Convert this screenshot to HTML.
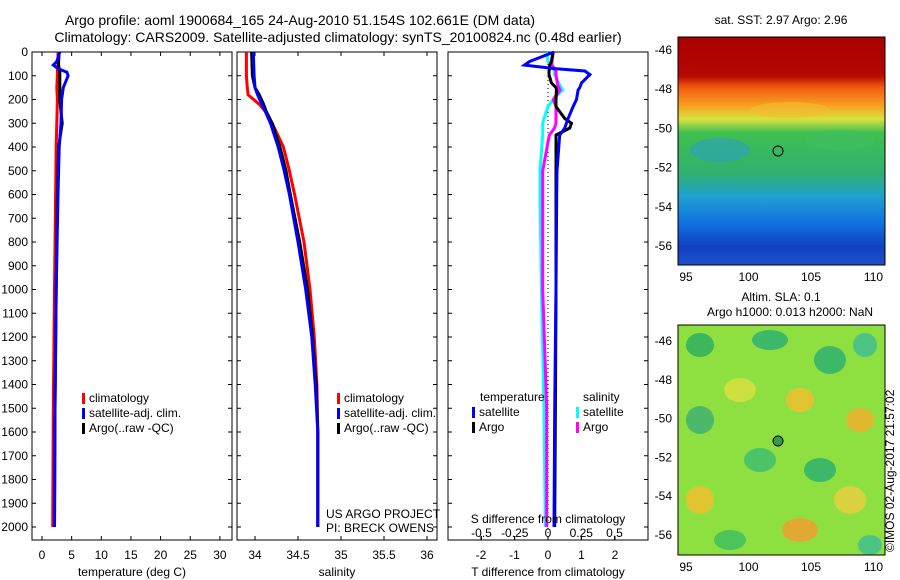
<!DOCTYPE html>
<html><head><meta charset="utf-8"><style>
body{margin:0;background:#fff;}
svg{display:block;font-family:"Liberation Sans",sans-serif;}
text{font-size:12px;fill:#000;}
</style></head><body>
<svg id="c" width="900" height="580" viewBox="0 0 900 580">
<defs>
<linearGradient id="g1" x1="0" y1="0" x2="0" y2="1">
<stop offset="0" stop-color="#a80000"/><stop offset="0.17" stop-color="#b40800"/>
<stop offset="0.22" stop-color="#f05a10"/><stop offset="0.3" stop-color="#f8a020"/>
<stop offset="0.36" stop-color="#d8e040"/><stop offset="0.42" stop-color="#40c050"/>
<stop offset="0.6" stop-color="#30b070"/><stop offset="0.7" stop-color="#20a0d0"/>
<stop offset="0.82" stop-color="#1070e0"/><stop offset="0.92" stop-color="#1040c0"/>
<stop offset="1" stop-color="#2050c8"/></linearGradient>
</defs>
<text x="300" y="25" text-anchor="middle" style="font-size:14px">Argo profile: aoml 1900684_165 24-Aug-2010 51.154S 102.661E (DM data)</text>
<text x="338" y="42" text-anchor="middle" style="font-size:14px">Climatology: CARS2009. Satellite-adjusted climatology: synTS_20100824.nc (0.48d earlier)</text>
<g id="p1"></g>
<g id="p2"></g>
<g id="p3"></g>
<g>
<rect x="678" y="37" width="207" height="228" fill="url(#g1)"/>
<ellipse cx="720" cy="150" rx="30" ry="12" fill="#2aa0c0" opacity="0.6"/>
<ellipse cx="840" cy="140" rx="35" ry="10" fill="#40c060" opacity="0.6"/>
<ellipse cx="790" cy="110" rx="40" ry="8" fill="#f0c030" opacity="0.6"/>
<circle cx="778" cy="151" r="5" fill="none" stroke="#000"/>
<text x="781" y="24" text-anchor="middle">sat. SST: 2.97 Argo: 2.96</text>
</g>
<g>
<rect x="678" y="325" width="207" height="230" fill="#8ee040"/>
<g opacity="0.85">
<ellipse cx="700" cy="345" rx="14" ry="12" fill="#30b060"/><ellipse cx="770" cy="340" rx="18" ry="10" fill="#30b070"/>
<ellipse cx="830" cy="360" rx="16" ry="14" fill="#30b070"/><ellipse cx="865" cy="345" rx="12" ry="12" fill="#40c090"/>
<ellipse cx="740" cy="390" rx="16" ry="12" fill="#d8e040"/><ellipse cx="800" cy="400" rx="14" ry="12" fill="#f0c030"/>
<ellipse cx="700" cy="420" rx="14" ry="14" fill="#40b070"/><ellipse cx="860" cy="420" rx="14" ry="12" fill="#f0b030"/>
<ellipse cx="760" cy="460" rx="16" ry="12" fill="#40c070"/><ellipse cx="820" cy="470" rx="16" ry="12" fill="#30b070"/>
<ellipse cx="700" cy="500" rx="14" ry="14" fill="#f0c030"/><ellipse cx="850" cy="500" rx="16" ry="14" fill="#e8d040"/>
<ellipse cx="730" cy="540" rx="16" ry="10" fill="#40c060"/><ellipse cx="800" cy="530" rx="18" ry="12" fill="#f0a030"/>
<ellipse cx="870" cy="545" rx="12" ry="10" fill="#40c090"/>
</g>
<circle cx="778" cy="441" r="5" fill="#30a040" stroke="#000"/>
<text x="781" y="301" text-anchor="middle">Altim. SLA: 0.1</text>
<text x="790" y="316" text-anchor="middle">Argo h1000: 0.013 h2000: NaN</text>
</g>
<text transform="translate(894,552) rotate(-90)">©IMOS 02-Aug-2017 21:57:02</text>
<g id="maxes"></g>
</svg>
<script>
const NS="http://www.w3.org/2000/svg";
const depthTicks=[0,100,200,300,400,500,600,700,800,900,1000,1100,1200,1300,1400,1500,1600,1700,1800,1900,2000];
const tempTicks=[0,5,10,15,20,25,30];
const salTicks=[34,34.5,35,35.5,36];
const salTickLabels=["34","34.5","35","35.5","36"];
const tdTicks=[-2,-1,0,1,2];
const sdTicks=[-0.5,-0.25,0,0.25,0.5];
// temperature profiles
const tDepth=[0,40,55,70,85,100,150,200,300,400,600,1000,1500,2000];
const tClim=[2.7,2.7,2.7,2.6,2.6,2.6,2.5,2.6,2.5,2.4,2.3,2.1,1.9,1.8];
const tSat=[3.0,2.5,1.9,2.7,4.2,4.4,3.6,3.3,3.2,2.9,2.7,2.4,2.2,2.1];
const tArgo=[2.9,2.8,2.8,2.9,3.0,3.0,3.0,3.0,3.4,2.8,2.6,2.4,2.2,2.1];
// salinity profiles
const sDepth=[0,100,150,180,220,250,300,400,500,600,800,1000,1200,1400,1600,1800,2000];
const sClim=[33.9,33.9,33.91,33.92,34.05,34.12,34.2,34.33,34.4,34.46,34.57,34.64,34.69,34.72,34.73,34.73,34.73];
const sSat=[33.98,33.99,34.0,34.03,34.08,34.12,34.18,34.27,34.34,34.4,34.5,34.59,34.66,34.7,34.73,34.73,34.73];
const sArgo=[33.96,33.97,34.0,34.05,34.1,34.13,34.2,34.29,34.36,34.41,34.52,34.61,34.67,34.71,34.73,34.73,34.73];
// differences
const dDepth=[0,40,55,70,80,95,130,150,160,200,230,280,300,320,350,500,600,1000,1500,2000];
const dTSat=[0.18,-0.55,-0.7,0.2,1.1,1.25,1.0,0.95,0.9,0.85,0.75,0.6,0.55,0.5,0.35,0.27,0.26,0.24,0.2,0.18];
const dTArgo=[0.15,0.1,0.05,0.05,0.03,0.03,0.1,0.24,0.25,0.24,0.24,0.5,0.7,0.65,0.24,0.24,0.24,0.24,0.22,0.2];
const dSSat=[-0.01,0.0,0.02,0.04,0.05,0.05,0.08,0.1,0.11,0.04,0.0,-0.03,-0.04,-0.04,-0.04,-0.06,-0.06,-0.05,-0.03,-0.02];
const dSArgo=[0.04,0.03,0.03,0.05,0.06,0.06,0.07,0.08,0.09,0.04,0.06,0.06,0.06,0.05,0.01,-0.04,-0.04,-0.04,-0.01,-0.01];
// map axes
const latTicks=[-46,-48,-50,-52,-54,-56];
const lonTicks=[95,100,105,110];

const yD=d=>52+d*0.2375;
const xT=v=>42+v*5.93;
const xS=v=>255+(v-34)*86;
const xDT=v=>548+v*33.5;
const xDS=v=>548+v*133;
function el(tag,attrs,parent,txt){const e=document.createElementNS(NS,tag);for(const k in attrs)e.setAttribute(k,attrs[k]);if(txt!==undefined)e.textContent=txt;parent.appendChild(e);return e;}
function line(parent,depths,vals,fx,color,name,w){
  const pts=depths.map((d,i)=>fx(vals[i]).toFixed(1)+","+yD(d).toFixed(1)).join(" ");
  const p=el("polyline",{points:pts,fill:"none",stroke:color,"stroke-width":w||3},parent);
  
  
}
function box(parent,x0,x1,yTickLabels){
  const r=el("rect",{x:x0,y:52,width:x1-x0,height:488,fill:"none",stroke:"#000"},parent);
  
  
  depthTicks.forEach(d=>{
    el("line",{x1:x0,x2:x0+4,y1:yD(d),y2:yD(d),stroke:"#000"},parent);
    el("line",{x1:x1,x2:x1-4,y1:yD(d),y2:yD(d),stroke:"#000"},parent);
    if(yTickLabels){const t=el("text",{x:x0-4,y:yD(d)+4,"text-anchor":"end"},parent,String(d));
      
      }
  });
}
function xticks(parent,vals,labels,fx,ytop,ybot,ylab,tickY){
  vals.forEach((v,i)=>{
    const ty=tickY||ybot;
    el("line",{x1:fx(v),x2:fx(v),y1:ty,y2:ty-4,stroke:"#000"},parent);
    if(ytop)el("line",{x1:fx(v),x2:fx(v),y1:ytop,y2:ytop+4,stroke:"#000"},parent);
    const t=el("text",{x:fx(v),y:ylab,"text-anchor":"middle"},parent,labels[i]);
    
    
  });
}
function legend(parent,x,y,items){
  items.forEach((it,i)=>{
    el("rect",{x:x,y:y+i*15-9,width:3,height:11,fill:it[0]},parent);
    const t=el("text",{x:x+7,y:y+i*15},parent,it[1]);
    
    
  });
}
// panel 1
const p1=document.getElementById("p1");
box(p1,32,232,true);
xticks(p1,tempTicks,tempTicks.map(String),xT,52,540,559);
line(p1,tDepth,tClim,xT,"#f00","temp-climatology-line");
line(p1,tDepth,tArgo,xT,"#000","temp-argo-line");
line(p1,tDepth,tSat,xT,"#00f","temp-satellite-line");
legend(p1,82,402,[["#f00","climatology"],["#00f","satellite-adj. clim."],["#000","Argo(..raw -QC)"]]);
el("text",{x:132,y:576,"text-anchor":"middle"},p1,"temperature (deg C)");
// panel 2
const p2=document.getElementById("p2");
box(p2,237,437,false);
xticks(p2,salTicks,salTickLabels,xS,52,540,559);
line(p2,sDepth,sClim,xS,"#f00","sal-climatology-line");
line(p2,sDepth,sArgo,xS,"#000","sal-argo-line");
line(p2,sDepth,sSat,xS,"#00f","sal-satellite-line");
legend(p2,337,402,[["#f00","climatology"],["#00f","satellite-adj. clim."],["#000","Argo(..raw -QC)"]]);
el("text",{x:326,y:518},p2,"US ARGO PROJECT");
el("text",{x:326,y:532},p2,"PI: BRECK OWENS");
el("text",{x:337,y:576,"text-anchor":"middle"},p2,"salinity");
// panel 3
const p3=document.getElementById("p3");
box(p3,448,648,false);
el("line",{x1:548,x2:548,y1:52,y2:540,stroke:"#000","stroke-dasharray":"1,3"},p3);
xticks(p3,tdTicks,tdTicks.map(String),xDT,null,540,559);
xticks(p3,sdTicks,["-0.5","-0.25","0","0.25","0.5"],xDS,null,540,537,540);
line(p3,dDepth,dSSat,xDS,"#0ff","sal-diff-satellite-line");
line(p3,dDepth,dSArgo,xDS,"#f0f","sal-diff-argo-line");
line(p3,dDepth,dTArgo,xDT,"#000","temp-diff-argo-line");
line(p3,dDepth,dTSat,xDT,"#00f","temp-diff-satellite-line");
el("text",{x:480,y:401},p3,"temperature");
el("text",{x:583,y:401},p3,"salinity");
legend(p3,472,416,[["#00f","satellite"],["#000","Argo"]]);
legend(p3,576,416,[["#0ff","satellite"],["#f0f","Argo"]]);
el("text",{x:548,y:523,"text-anchor":"middle"},p3,"S difference from climatology");
el("text",{x:548,y:576,"text-anchor":"middle"},p3,"T difference from climatology");
// map axes
const ma=document.getElementById("maxes");
const yLat1=v=>50+(-46-v)*19.6, yLat2=v=>341+(-46-v)*19.4, xLon=v=>686+(v-95)*12.5;
[[yLat1,37,265],[yLat2,325,555]].forEach(([fy,t,b])=>{
  el("rect",{x:678,y:t,width:207,height:b-t,fill:"none",stroke:"#000"},ma);
  latTicks.forEach(v=>{const tx=el("text",{x:672,y:fy(v)+4,"text-anchor":"end"},ma,String(v));
    
    });
  lonTicks.forEach(v=>{const tx=el("text",{x:xLon(v),y:b+16,"text-anchor":"middle"},ma,String(v));
    
    });
});
</script>
</body></html>
